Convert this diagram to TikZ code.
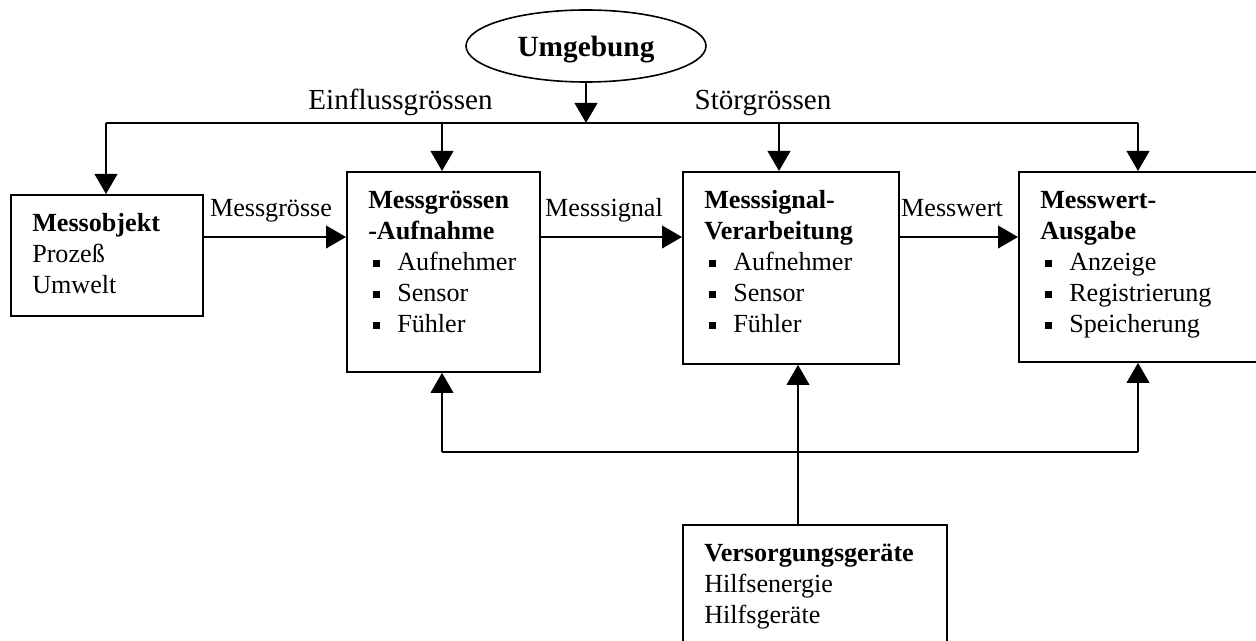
\documentclass[tikz,border=0pt]{standalone}
\usepackage{fontspec}
\setmainfont{Liberation Serif}
\usetikzlibrary{arrows.meta,shapes.geometric}
\newcommand{\bxc}[3]{\begin{minipage}[t][#2][t]{#1}\raggedright\leftskip=16pt\rule{0pt}{27.4pt}#3\end{minipage}}
\newcommand{\itm}{\makebox[21.75pt][l]{\hspace*{3.4pt}\rule[2.25pt]{5.25pt}{5.25pt}}}
\begin{document}
\begin{tikzpicture}[x=0.75pt,y=-0.75pt, line width=1.4pt,
  arr/.style={-{Triangle[length=15pt,width=17pt]}},
  blk/.style={draw, inner sep=0pt, anchor=north west, font=\fontsize{19.6pt}{23.25pt}\selectfont},
  lbl/.style={anchor=base, inner sep=0pt, font=\fontsize{19.6pt}{23.25pt}\selectfont},
  big/.style={anchor=base, inner sep=0pt, font=\fontsize{21.8pt}{24pt}\selectfont}]
\useasboundingbox (0,0) rectangle (1256,641);

% ellipse
\node[draw, ellipse, line width=1.2pt, minimum width=180pt, minimum height=54pt, inner sep=0pt,
      text depth=0pt, font=\bfseries\fontsize{22pt}{24pt}\selectfont] (umg) at (586,46) {Umgebung};

% boxes
\node[blk] (mo) at (10,194) {\bxc{144pt}{90.75pt}{\textbf{Messobjekt}\\Prozeß\\Umwelt}};
\node[blk] (mga) at (346,171) {\bxc{144.75pt}{150pt}{\textbf{Messgrössen}\\\textbf{-Aufnahme}\\\itm Aufnehmer\\\itm Sensor\\\itm Fühler}};
\node[blk] (msv) at (682,171) {\bxc{162pt}{144pt}{\textbf{Messsignal-}\\\textbf{Verarbeitung}\\\itm Aufnehmer\\\itm Sensor\\\itm Fühler}};
\node[blk] (mwa) at (1018,171) {\bxc{187.5pt}{142.5pt}{\textbf{Messwert-}\\\textbf{Ausgabe}\\\itm Anzeige\\\itm Registrierung\\\itm Speicherung}};
\node[blk] (vg) at (682,524) {\bxc{198pt}{112.5pt}{\textbf{Versorgungsgeräte}\\Hilfsenergie\\Hilfsgeräte}};

% labels
\node[big] (einf) at (400.5,110) {Einflussgrössen};
\node[big] (stoer) at (763,110) {Störgrössen};
\node[lbl] (l1) at (271,217) {Messgrösse};
\node[lbl] (l2) at (604,217) {Messsignal};
\node[lbl] (l3) at (952,217) {Messwert};

% top bus
\coordinate (t1) at (106,123);
\coordinate (t2) at (442,123);
\coordinate (t3) at (779,123);
\coordinate (t4) at (1138,123);
\coordinate (tj) at (586,123);
\draw (t1) -- (t4);
\draw[arr] (umg) -- (tj);
\draw[arr] (t1) -- (t1 |- mo.north);
\draw[arr] (t2) -- (t2 |- mga.north);
\draw[arr] (t3) -- (t3 |- msv.north);
\draw[arr] (t4) -- (t4 |- mwa.north);

% horizontal signal flow
\coordinate (hy) at (0,237);
\draw[arr] (mo.east |- hy) -- (mga.west |- hy);
\draw[arr] (mga.east |- hy) -- (msv.west |- hy);
\draw[arr] (msv.east |- hy) -- (mwa.west |- hy);

% bottom bus
\coordinate (b1) at (442,452);
\coordinate (b2) at (1138,452);
\coordinate (vx) at (798,0);
\draw (b1) -- (b2);
\draw[arr] (b1) -- (b1 |- mga.south);
\draw[arr] (b2) -- (b2 |- mwa.south);
\draw[arr] (vg.north -| vx) -- (msv.south -| vx);
\end{tikzpicture}
\end{document}
